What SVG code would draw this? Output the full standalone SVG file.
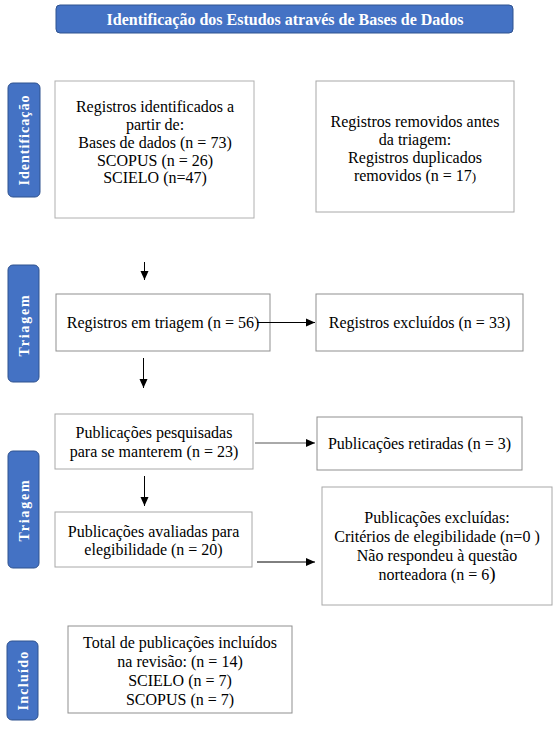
<svg xmlns="http://www.w3.org/2000/svg" width="557" height="730" viewBox="0 0 557 730">
<style>
.bg{fill:#ffffff}
.box{fill:#ffffff;stroke:#8f8f8f;stroke-width:1}
.lbl{fill:#4472C4;stroke:#2F528F;stroke-width:1}
.t{font-size:16px;fill:#000;text-anchor:middle}
.w{font-weight:bold;font-size:14px;fill:#fff;text-anchor:middle}
.c{stroke:#000;stroke-width:1;fill:none;marker-end:url(#ah)}
</style>
<defs>
<marker id="ah" markerUnits="userSpaceOnUse" markerWidth="10" markerHeight="10" viewBox="0 0 10 10" refX="9" refY="5" orient="auto">
<path d="M0,1 L9,5 L0,9 Z" fill="#000"/>
</marker>
</defs>
<rect class="bg" x="0" y="0" width="557" height="730"/>
<g font-family="Liberation Serif, Tinos, Times New Roman, Times, DejaVu Serif, serif">
<g id="title">
<rect class="lbl" x="56" y="5" width="457" height="28" rx="4"/>
<text class="w" x="285" y="24.5" style="font-size:16px">Identificação dos Estudos através de Bases de Dados</text>
</g>

<g id="label-identificacao">
<rect class="lbl" x="8" y="83" width="32" height="114" rx="5"/>
<text class="w" transform="translate(29,140) rotate(-90)" style="letter-spacing:1px">Identificação</text>
</g>
<g id="label-triagem1">
<rect class="lbl" x="8" y="265" width="31" height="117" rx="5"/>
<text class="w" transform="translate(28.5,325) rotate(-90)" style="letter-spacing:1.8px">Triagem</text>
</g>
<g id="label-triagem2">
<rect class="lbl" x="8" y="451" width="31" height="117" rx="5"/>
<text class="w" transform="translate(28.5,510) rotate(-90)" style="letter-spacing:1.8px">Triagem</text>
</g>
<g id="label-incluido">
<rect class="lbl" x="7" y="641" width="31" height="79" rx="5"/>
<text class="w" transform="translate(27.5,680.5) rotate(-90)" style="letter-spacing:1.3px">Incluído</text>
</g>

<g id="registros-identificados">
<rect class="box" x="55" y="81" width="199" height="137" style="stroke:#b0b0b0"/>
<text class="t" x="155" y="112">Registros identificados a</text>
<text class="t" x="155" y="130">partir de:</text>
<text class="t" x="155" y="148">Bases de dados (n = 73)</text>
<text class="t" x="155" y="166">SCOPUS (n = 26)</text>
<text class="t" x="155" y="183">SCIELO (n=47)</text>
</g>

<g id="registros-removidos">
<rect class="box" x="316" y="81" width="198" height="131" style="stroke:#a8a8a8"/>
<text class="t" x="415" y="127">Registros removidos antes</text>
<text class="t" x="415" y="145">da triagem:</text>
<text class="t" x="415" y="163">Registros duplicados</text>
<text class="t" x="415" y="181">removidos (n = 17<tspan style="font-size:13px">)</tspan></text>
</g>

<g id="registros-triagem">
<rect class="box" x="56" y="294" width="214" height="57"/>
<text class="t" x="163" y="328">Registros em triagem (n = 56)</text>
</g>

<g id="registros-excluidos">
<rect class="box" x="316" y="294" width="207" height="57"/>
<text class="t" x="419.5" y="328">Registros excluídos (n = 33)</text>
</g>

<g id="publicacoes-pesquisadas">
<rect class="box" x="55" y="414" width="198" height="55" style="stroke:#a8a8a8"/>
<text class="t" x="154" y="438">Publicações pesquisadas</text>
<text class="t" x="154" y="457">para se manterem (n = 23)</text>
</g>

<g id="publicacoes-retiradas">
<rect class="box" x="317" y="417" width="205" height="53"/>
<text class="t" x="419.5" y="449">Publicações retiradas (n = 3)</text>
</g>

<g id="publicacoes-avaliadas">
<rect class="box" x="55" y="512" width="197" height="55" style="stroke:#a8a8a8"/>
<text class="t" x="153.5" y="537">Publicações avaliadas para</text>
<text class="t" x="153.5" y="555">elegibilidade (n = 20)</text>
</g>

<g id="publicacoes-excluidas">
<rect class="box" x="322" y="487" width="230" height="118" style="stroke:#a8a8a8"/>
<text class="t" x="437" y="523">Publicações excluídas:</text>
<text class="t" x="437" y="542">Critérios de elegibilidade (n=0 )</text>
<text class="t" x="437" y="561">Não respondeu à questão</text>
<text class="t" x="437" y="580">norteadora (n = 6<tspan style="font-size:19px">)</tspan></text>
</g>

<g id="total-incluidos">
<rect class="box" x="68" y="626" width="224" height="87"/>
<text class="t" x="180" y="648">Total de publicações incluídos</text>
<text class="t" x="180" y="667">na revisão: (n = 14)</text>
<text class="t" x="180" y="686">SCIELO (n = 7)</text>
<text class="t" x="180" y="705">SCOPUS (n = 7)</text>
</g>
</g>
<g id="connectors">
<line class="c" x1="144.5" y1="262" x2="144.5" y2="280"/>
<line class="c" x1="143.5" y1="358" x2="143.5" y2="388"/>
<line class="c" x1="144.5" y1="476" x2="144.5" y2="506"/>
<line class="c" x1="257" y1="322.5" x2="315" y2="322.5"/>
<line class="c" x1="255" y1="443" x2="315" y2="443" style="stroke:#555"/>
<line class="c" x1="257" y1="562" x2="315" y2="562"/>
</g>
</svg>
